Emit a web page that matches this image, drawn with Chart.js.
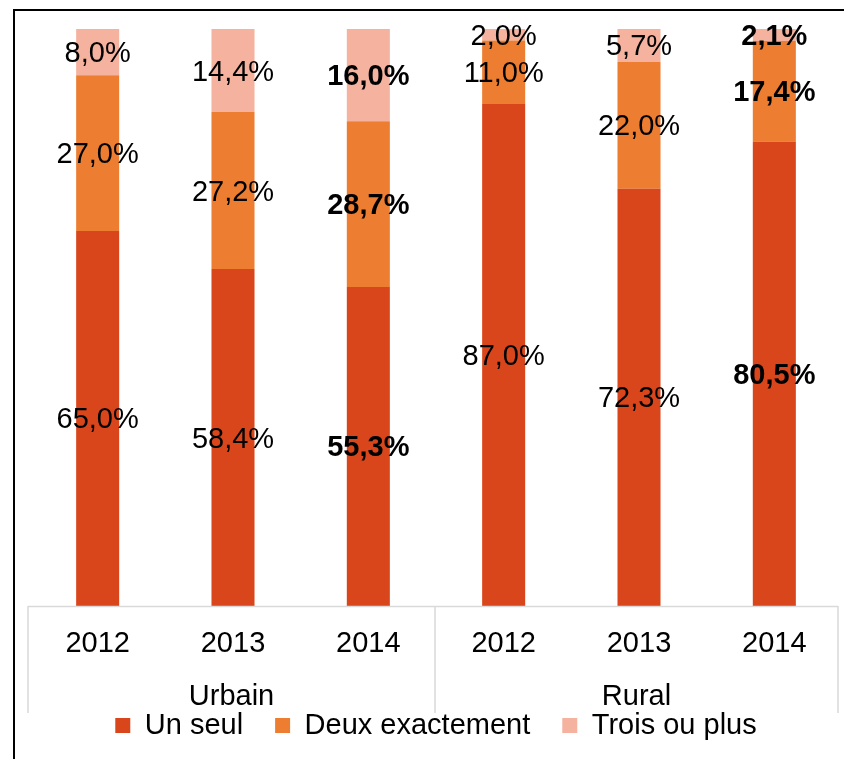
<!DOCTYPE html>
<html>
<head>
<meta charset="utf-8">
<script src="https://cdn.jsdelivr.net/npm/chart.js@4/dist/chart.umd.min.js"></script>
<style>
  html, body { margin: 0; padding: 0; background: #fff; width: 844px; height: 759px; overflow: hidden; }
  #frame { position: absolute; left: 13px; top: 9px; width: 900px; height: 800px; border-left: 2px solid #000; border-top: 2px solid #000; }
  #wrap { position: absolute; left: 15px; top: 11px; width: 829px; height: 748px; }
</style>
</head>
<body>
<div id="frame"></div>
<div id="wrap"><canvas id="c"></canvas></div>
<script>
const categories = ['2012', '2013', '2014', '2012', '2013', '2014'];
const groups = ['Urbain', 'Rural'];
const seriesNames = ['Un seul', 'Deux exactement', 'Trois ou plus'];
const unSeul = [65.0, 58.4, 55.3, 87.0, 72.3, 80.5];
const deuxExactement = [27.0, 27.2, 28.7, 11.0, 22.0, 17.4];
const troisOuPlus = [8.0, 14.4, 16.0, 2.0, 5.7, 2.1];
const boldIndex = [2, 5];

const colors = ['#D9461B', '#ED7D31', '#F5B29E'];
const FONT = '"Liberation Sans", Arial, sans-serif';

const fmt = v => v.toFixed(1).replace('.', ',') + '%';

const labelPlugin = {
  id: 'segLabels',
  afterDatasetsDraw(chart) {
    const ctx = chart.ctx;
    ctx.save();
    ctx.textAlign = 'center';
    ctx.textBaseline = 'middle';
    ctx.fillStyle = '#000';
    chart.data.datasets.forEach((ds, di) => {
      const meta = chart.getDatasetMeta(di);
      meta.data.forEach((el, i) => {
        const bold = boldIndex.includes(i);
        ctx.font = (bold ? 'bold ' : '') + '29px ' + FONT;
        ctx.fillText(fmt(ds.data[i]), el.x, (el.y + el.base) / 2 + 2);
      });
    });
    ctx.restore();
  }
};

const axisPlugin = {
  id: 'multiAxis',
  afterDraw(chart) {
    const ctx = chart.ctx;
    const xs = chart.scales.x;
    const bottom = chart.chartArea.bottom;
    const mid = (xs.getPixelForValue(2) + xs.getPixelForValue(3)) / 2;
    const seps = [xs.left - 2, mid - 1, xs.right - 4];
    ctx.save();
    ctx.strokeStyle = '#D9D9D9';
    ctx.lineWidth = 1.5;
    ctx.beginPath();
    ctx.moveTo(seps[0], bottom + 0.5);
    ctx.lineTo(seps[2], bottom + 0.5);
    seps.forEach(x => {
      ctx.moveTo(x, bottom);
      ctx.lineTo(x, bottom + 107);
    });
    ctx.stroke();
    ctx.fillStyle = '#000';
    ctx.font = '29px ' + FONT;
    ctx.textAlign = 'center';
    ctx.textBaseline = 'middle';
    ctx.fillText(groups[0], (seps[0] + seps[1]) / 2, bottom + 91);
    ctx.fillText(groups[1], (seps[1] + seps[2]) / 2, bottom + 91);
    ctx.restore();
  }
};

new Chart(document.getElementById('c'), {
  type: 'bar',
  data: {
    labels: categories,
    datasets: [
      { label: seriesNames[0], data: unSeul, backgroundColor: colors[0], borderWidth: 0 },
      { label: seriesNames[1], data: deuxExactement, backgroundColor: colors[1], borderWidth: 0 },
      { label: seriesNames[2], data: troisOuPlus, backgroundColor: colors[2], borderWidth: 0 }
    ]
  },
  options: {
    responsive: true,
    maintainAspectRatio: false,
    animation: false,
    layout: { padding: { left: 15, right: 2, top: 18, bottom: 9 } },
    datasets: { bar: { categoryPercentage: 1, barPercentage: 0.318 } },
    scales: {
      x: {
        stacked: true,
        grid: { display: false, drawTicks: false },
        border: { display: false },
        ticks: { color: '#000', font: { family: FONT, size: 29 }, padding: 20.6, maxRotation: 0, autoSkip: false },
        afterFit: (scale) => { scale.height = 73; }
      },
      y: {
        stacked: true,
        display: false,
        min: 0,
        max: 100
      }
    },
    plugins: {
      legend: {
        position: 'bottom',
        labels: {
          boxWidth: 15,
          boxHeight: 15,
          padding: 32,
          color: '#000',
          font: { family: FONT, size: 29 }
        }
      },
      tooltip: { enabled: false }
    }
  },
  plugins: [labelPlugin, axisPlugin]
});
</script>
</body>
</html>
